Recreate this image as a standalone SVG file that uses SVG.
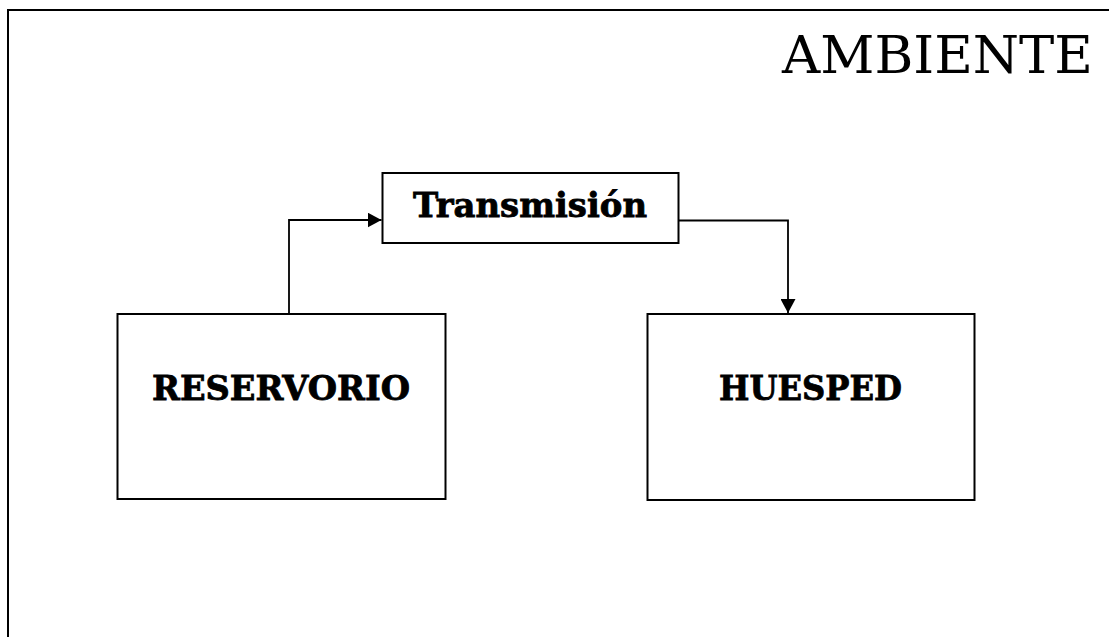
<svg xmlns="http://www.w3.org/2000/svg" width="1109" height="637" viewBox="0 0 1109 637">
  <style>
    .box { fill: #ffffff; stroke: #000000; stroke-width: 2; }
    .frame { fill: none; stroke: #000000; stroke-width: 2; }
    .lbl { font-family: "DejaVu Serif", "Liberation Serif", serif; font-weight: bold; font-size: 34px; fill: #000000; stroke: #000000; stroke-width: 0.8; }
    .title { font-family: "DejaVu Serif", "Liberation Serif", serif; font-size: 52px; fill: #000000; }
    .conn { fill: none; stroke: #000000; stroke-width: 1.8; }
  </style>
  <defs>
    <marker id="arrow" markerWidth="14" markerHeight="15" refX="14" refY="7.5" orient="auto" markerUnits="userSpaceOnUse">
      <path d="M0,0 L14,7.5 L0,15 Z" fill="#000000"/>
    </marker>
  </defs>
  <rect width="1109" height="637" fill="#ffffff"/>
  <g id="ambiente">
    <path class="frame" d="M8,640 L8,10 L1112,10"/>
    <text class="title" x="782" y="73" textLength="311" lengthAdjust="spacingAndGlyphs">AMBIENTE</text>
  </g>
  <g id="transmision">
    <rect class="box" x="382.5" y="173" width="296" height="70"/>
    <text class="lbl" x="413" y="217" textLength="234" lengthAdjust="spacingAndGlyphs">Transmisión</text>
  </g>
  <g id="reservorio">
    <rect class="box" x="117.5" y="314" width="328" height="185"/>
    <text class="lbl" x="152" y="400" textLength="258" lengthAdjust="spacingAndGlyphs">RESERVORIO</text>
  </g>
  <g id="huesped">
    <rect class="box" x="647.5" y="314" width="327" height="186"/>
    <text class="lbl" x="719" y="400" textLength="183" lengthAdjust="spacingAndGlyphs">HUESPED</text>
  </g>
  <g id="connectors">
    <path class="conn" d="M289,314 L289,220 L381.5,220" marker-end="url(#arrow)"/>
    <path class="conn" d="M679,220.5 L788,220.5 L788,313" marker-end="url(#arrow)"/>
  </g>
</svg>
